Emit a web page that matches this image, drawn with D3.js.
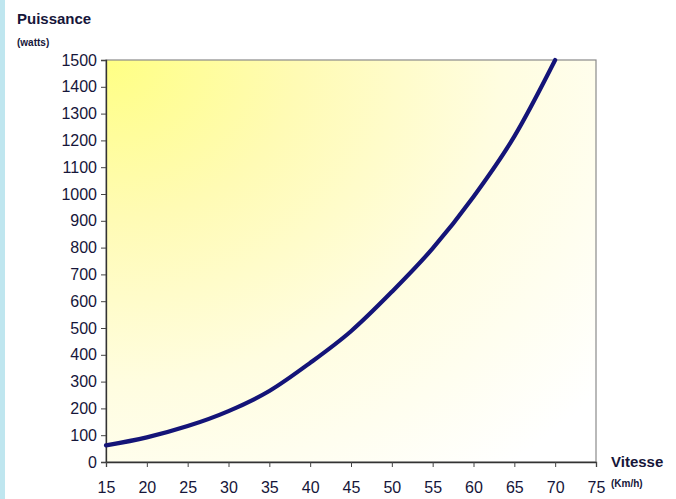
<!DOCTYPE html>
<html>
<head>
<meta charset="utf-8">
<script src="https://cdn.jsdelivr.net/npm/d3@7"></script>
<style>
  body { margin: 0; background: #fff; }
  svg { display: block; }
</style>
</head>
<body>
<div id="chart"></div>
<script>
var vitesse = [15, 20, 25, 30, 35, 40, 45, 50, 55, 60, 65, 70];
var puissance = [62, 92, 134, 190, 265, 370, 488, 635, 797, 990, 1215, 1500];
var xTicks = [15, 20, 25, 30, 35, 40, 45, 50, 55, 60, 65, 70, 75];
var yTicks = [0, 100, 200, 300, 400, 500, 600, 700, 800, 900, 1000, 1100, 1200, 1300, 1400, 1500];

var width = 676, height = 499;
var margin = {left: 106, top: 60, right: 80, bottom: 37};
var textColor = '#16163a';
var mainFont = '"Liberation Sans", Arial, sans-serif';

window.onload = function() {
    render();
};

function render() {
    var svg = d3.select('#chart').append('svg')
        .attr('width', width)
        .attr('height', height);

    // yellow glow from the top left corner of the plot
    var grad = svg.append('defs').append('radialGradient')
        .attr('id', 'bg')
        .attr('cx', '0').attr('cy', '0').attr('r', '1.3')
        .attr('fx', '0').attr('fy', '0');
    grad.append('stop').attr('offset', '0%').attr('stop-color', '#ffff84');
    grad.append('stop').attr('offset', '30%').attr('stop-color', '#fffbb4');
    grad.append('stop').attr('offset', '62%').attr('stop-color', '#fffde0');
    grad.append('stop').attr('offset', '100%').attr('stop-color', '#ffffff');

    // light blue stripe on the left edge
    svg.append('rect')
        .attr('x', 0).attr('y', 0)
        .attr('width', 5).attr('height', height)
        .attr('fill', '#bfe6ef');

    var x = d3.scaleLinear().domain([15, 75]).range([margin.left, width - margin.right]);
    var y = d3.scaleLinear().domain([0, 1500]).range([height - margin.bottom, margin.top]);

    // plot area
    svg.append('rect')
        .attr('x', x(15)).attr('y', y(1500))
        .attr('width', x(75) - x(15)).attr('height', y(0) - y(1500))
        .attr('fill', 'url(#bg)')
        .attr('stroke', '#8a8a8a')
        .attr('stroke-width', 1.2);

    var yAxis = svg.append('g')
        .attr('transform', 'translate(' + x(15) + ',0)')
        .call(d3.axisLeft(y).tickValues(yTicks).tickFormat(d3.format('d'))
            .tickSize(5).tickPadding(4));
    var xAxis = svg.append('g')
        .attr('transform', 'translate(0,' + y(0) + ')')
        .call(d3.axisBottom(x).tickValues(xTicks).tickFormat(d3.format('d'))
            .tickSize(5).tickPadding(15));

    [xAxis, yAxis].forEach(function(ax) {
        ax.select('.domain').attr('stroke', '#333').attr('stroke-width', 1.3);
        ax.selectAll('line').attr('stroke', '#444');
        ax.selectAll('text')
            .attr('fill', textColor)
            .style('font-family', mainFont)
            .style('font-size', '16px');
    });

    // curve
    var line = d3.line()
        .x(function(d, i) { return x(vitesse[i]); })
        .y(function(d) { return y(d); })
        .curve(d3.curveMonotoneX);
    svg.append('path')
        .attr('d', line(puissance))
        .attr('fill', 'none')
        .attr('stroke', '#141478')
        .attr('stroke-width', 4.2)
        .attr('stroke-linecap', 'round');

    // axis titles
    var titles = [
        {text: 'Puissance', x: 17, y: 24, size: 15},
        {text: '(watts)', x: 17, y: 46, size: 10},
        {text: 'Vitesse', x: 611, y: 467, size: 15},
        {text: '(Km/h)', x: 611, y: 487, size: 10}
    ];
    svg.selectAll('.title')
        .data(titles)
        .enter().append('text')
        .attr('class', 'title')
        .attr('x', function(d) { return d.x; })
        .attr('y', function(d) { return d.y; })
        .attr('fill', textColor)
        .style('font-family', mainFont)
        .style('font-size', function(d) { return d.size + 'px'; })
        .style('font-weight', 'bold')
        .text(function(d) { return d.text; });
}
</script>
</body>
</html>
